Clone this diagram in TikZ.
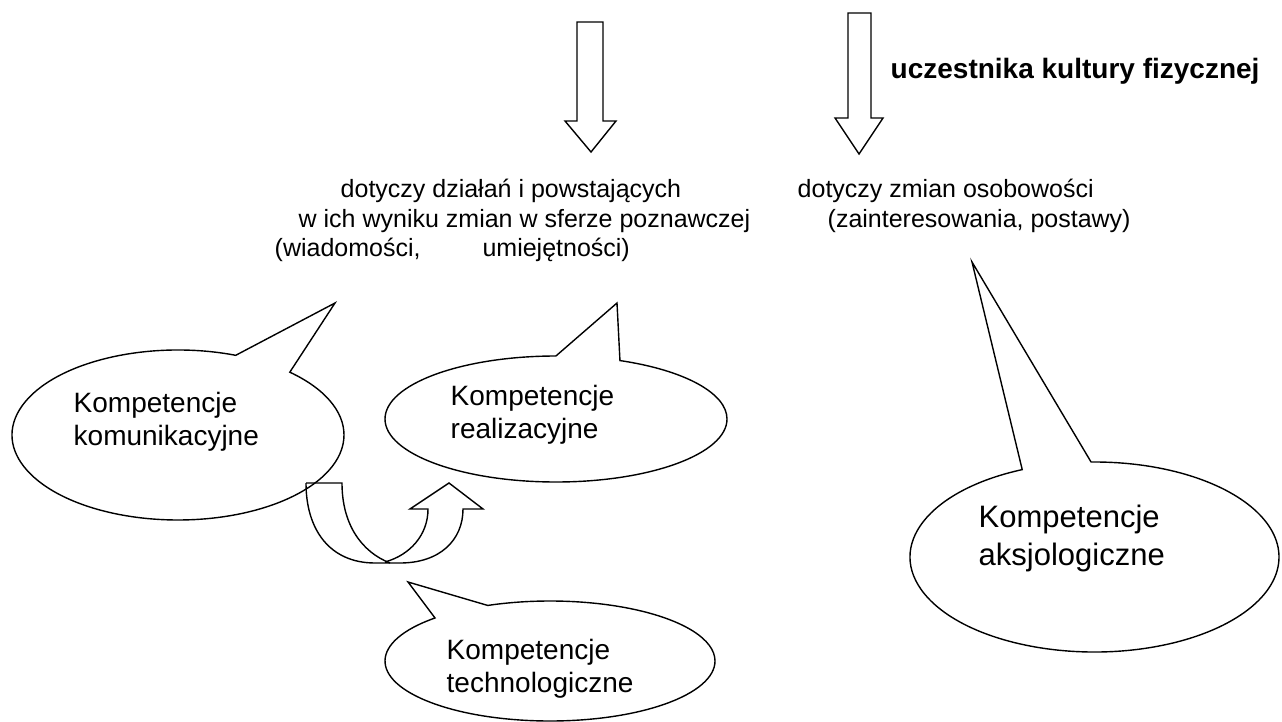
\documentclass[tikz,border=0pt]{standalone}
\usepackage{fontspec}
\setmainfont{Liberation Sans}
\usepackage{tikz}
\usetikzlibrary{shapes.callouts, shapes.geometric}

\begin{document}
\begin{tikzpicture}[x=1pt, y=-1pt, line width=1.4pt,
    bubble/.style={ellipse callout, draw, inner sep=0pt, callout pointer arc=22},
    bubbletext/.style={anchor=base west, align=left, inner sep=0pt, font=\fontsize{28}{33}\selectfont},
    toptext/.style={anchor=base west, inner sep=0pt, font=\fontsize{25}{29}\selectfont}]
    \useasboundingbox (0,0) rectangle (1282,722);

    % Headline
    \node[anchor=base west, inner sep=0pt, font=\fontsize{28}{32}\selectfont\bfseries] (uczest) at (890,79) {uczestnika kultury fizycznej};

    % Block arrows
    \draw (577,22) -- (603,22) -- (603,121) -- (616,121) -- (591,152) -- (565,121) -- (577,121) -- cycle;
    \draw (848,13) -- (871,13) -- (871,118) -- (883,118) -- (859,154) -- (835,118) -- (848,118) -- cycle;

    % Left description
    \node[toptext] (poz1) at (340,197) {dotyczy działań i powstających};
    \node[toptext] (poz2) at (298,227) {w ich wyniku zmian w sferze poznawczej};
    \node[toptext] (poz3) at (274,256) {(wiadomości,\hspace{62pt}umiejętności)};

    % Right description
    \node[toptext] (osob1) at (797,197) {dotyczy zmian osobowości};
    \node[toptext] (osob2) at (827,227) {(zainteresowania, postawy)};

    % Callouts
    \node[bubble, minimum width=332pt, minimum height=170pt, callout absolute pointer={(335,303)}] (komun) at (178,435) {};
    \node[bubbletext] (komuntext) at (73,445) {Kompetencje\\komunikacyjne};

    \node[bubble, minimum width=342pt, minimum height=126pt, callout absolute pointer={(617,303)}] (real) at (556,419) {};
    \node[bubbletext] (realtext) at (450,438) {Kompetencje\\realizacyjne};

    \node[bubble, minimum width=330pt, minimum height=120pt, callout absolute pointer={(408,582)}] (tech) at (550,661) {};
    \node[bubbletext] (techtext) at (446,692) {Kompetencje\\technologiczne};

    \node[bubble, minimum width=369pt, minimum height=190pt, callout absolute pointer={(972,262)}] (aksjo) at (1094.5,557) {};
    \node[bubbletext, font=\fontsize{31}{38}\selectfont] (aksjotext) at (978,565) {Kompetencje\\aksjologiczne};

    % U-turn arrow
    \draw (306,483) -- (342,483) .. controls (342,525) and (362,552) .. (390,563);
    \draw (306,483) .. controls (306,530) and (330,563) .. (375,563) -- (400,563) .. controls (440,563) and (463,540) .. (463,509) -- (483,509) -- (449,483) -- (410,509) -- (428,509) .. controls (428,535) and (410,555) .. (385,562);
\end{tikzpicture}
\end{document}
